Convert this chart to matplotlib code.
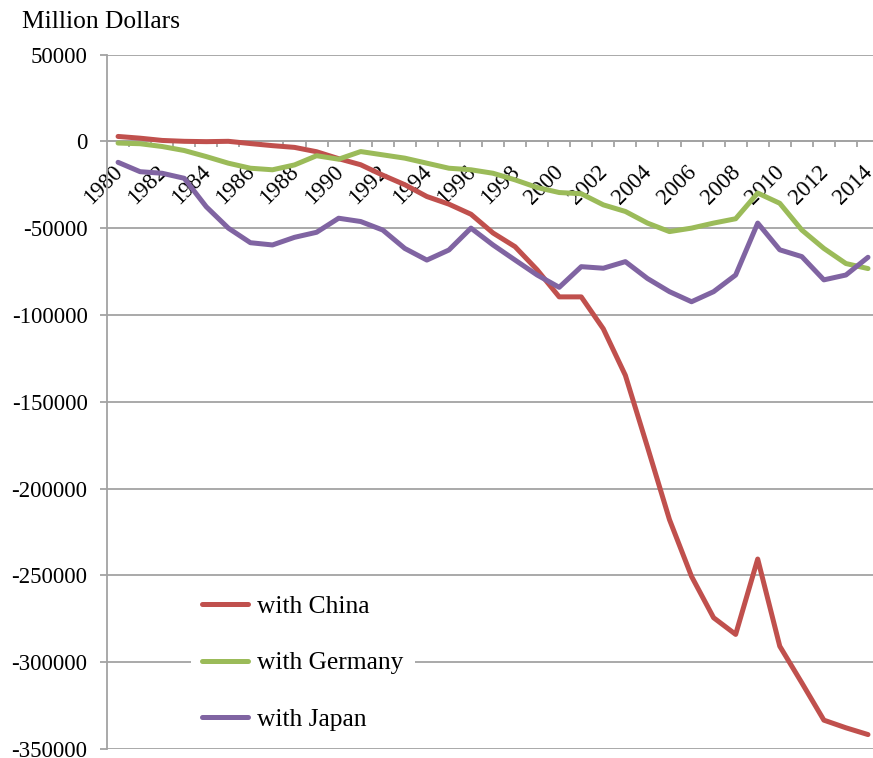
import matplotlib
matplotlib.use("Agg")
import matplotlib.pyplot as plt
import matplotlib.transforms as mtransforms
import numpy as np

plt.rcParams['font.family'] = ['Liberation Serif', 'DejaVu Serif']
plt.rcParams['axes.unicode_minus'] = False

years = list(range(1980, 2015))

# US trade balance, million dollars
china = [2800, 1800, 500, 0, -200, 0, -1300, -2500, -3500, -6000,
         -10000, -13500, -19500, -25000, -31800, -36200, -42000, -52800, -60700, -74000,
         -89600, -89600, -108000, -134800, -176000, -217900, -250600, -274400, -284000, -240600,
         -290800, -311900, -333400, -337800, -341700]
germany = [-1000, -1400, -3000, -5300, -8800, -12600, -15500, -16400, -13600, -8300,
           -10300, -5900, -7800, -9700, -12600, -15500, -16400, -18400, -22200, -26600,
           -29500, -30200, -36600, -40400, -47100, -52000, -50000, -47100, -44600, -29800,
           -35700, -51100, -61700, -70400, -73300]
japan = [-12100, -17500, -18400, -21300, -37700, -50000, -58400, -59700, -55300, -52400,
         -44300, -46200, -51100, -61700, -68400, -62600, -50000, -59700, -68400, -77000,
         -84100, -72200, -73100, -69300, -79000, -86600, -92400, -86600, -77000, -47100,
         -62500, -66400, -79800, -77000, -66800]

series = [("with China", china, "#C0504D"),
          ("with Germany", germany, "#9BBB59"),
          ("with Japan", japan, "#8064A2")]

grid_color = "#a3a3a3"

fig = plt.figure(figsize=(8.73, 7.58), dpi=100)
ax = fig.add_axes([0.1226, 0.0119, 0.8843, 0.9162])

x = np.arange(len(years))
for label, vals, color in series:
    ax.plot(x, vals, color=color, lw=3.6, label=label,
            solid_capstyle='round', solid_joinstyle='round', clip_on=False, zorder=3)

ax.set_xlim(-0.5, len(years) - 0.5)
ax.set_ylim(-350000, 50000)
ax.set_yticks(np.arange(-350000, 50001, 50000))
ax.yaxis.grid(True, color=grid_color, lw=1.3)
ax.set_axisbelow(True)
ax.tick_params(axis='y', length=5, width=1.3, color=grid_color, pad=9,
               labelsize=16.5)

# category axis sits on the zero line, tick marks between categories
ax.spines['bottom'].set_position(('data', 0))
ax.spines['bottom'].set_color(grid_color)
ax.spines['bottom'].set_linewidth(1.3)
ax.spines['left'].set_color(grid_color)
ax.spines['left'].set_linewidth(1.3)
ax.spines['top'].set_visible(False)
ax.spines['right'].set_visible(False)

ax.set_xticks(x[::2])
ax.set_xticklabels([str(y) for y in years[::2]], rotation=45, ha='right',
                   va='top', rotation_mode='anchor')
ax.set_xticks(np.arange(0.5, len(years) - 0.5, 1), minor=True)
ax.tick_params(axis='x', which='major', length=0, pad=13, labelsize=16.5)
ax.tick_params(axis='x', which='minor', length=4, width=1.3, color=grid_color,
               direction='out')
shift = mtransforms.ScaledTranslation(-6 / 100, -2 / 100, fig.dpi_scale_trans)
for lbl in ax.get_xticklabels():
    lbl.set_transform(lbl.get_transform() + shift)

fig.text(22 / 873, 1 - 28 / 758, "Million Dollars", fontsize=18.4,
         va='baseline', ha='left')

leg = ax.legend(loc='center', bbox_to_anchor=(303 / 873, 1 - 663 / 758),
                bbox_transform=fig.transFigure, fontsize=18.4, frameon=True,
                facecolor='white', edgecolor='none', framealpha=1, fancybox=False,
                handlelength=1.8, handletextpad=0.35, labelspacing=1.3,
                borderpad=0.45)
leg.set_zorder(5)

fig.savefig("out.png", dpi=100)
